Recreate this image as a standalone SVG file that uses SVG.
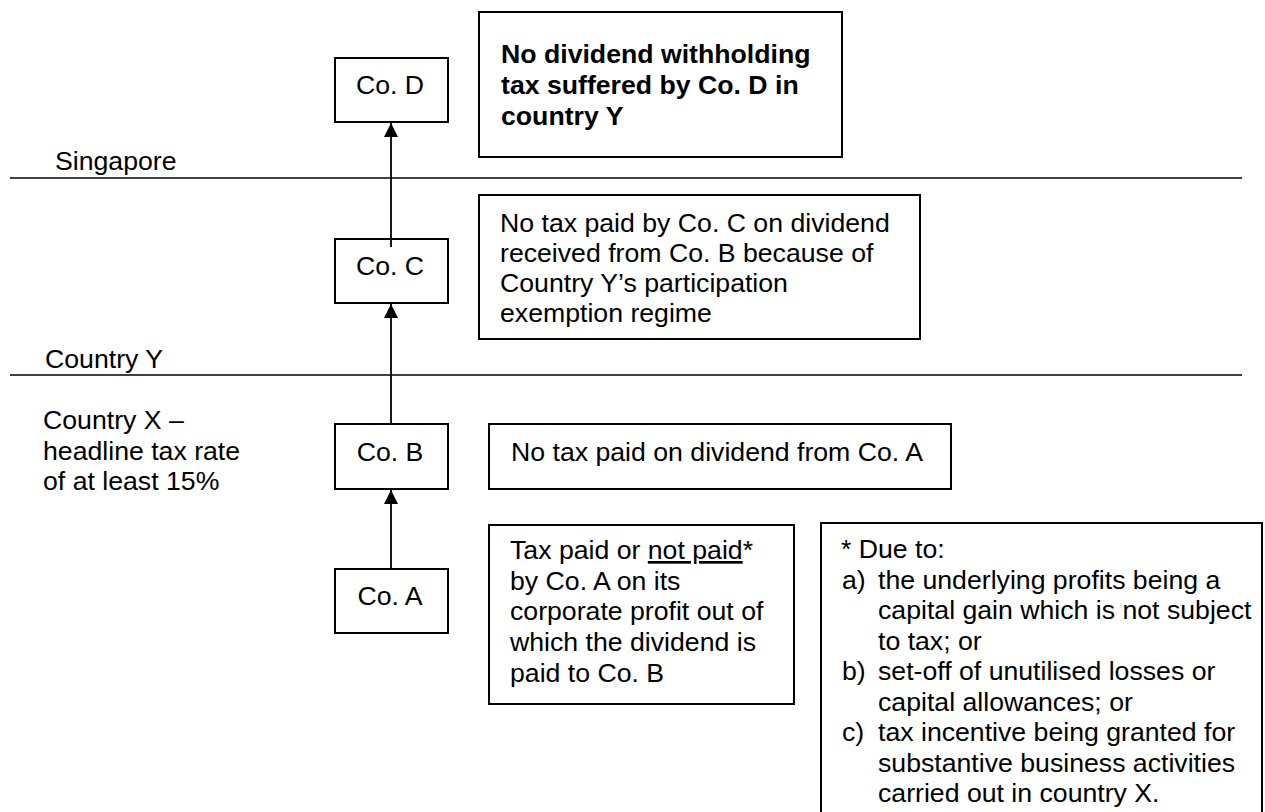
<svg xmlns="http://www.w3.org/2000/svg" width="1265" height="812" viewBox="0 0 1265 812">
<defs>
<style>
text{font-family:"Liberation Sans",Arial,sans-serif;font-size:26.67px;fill:#000}
.b{font-weight:bold}
.box{fill:#fff;stroke:#000;stroke-width:2}
.sep{stroke:#000;stroke-width:1.5;fill:none}
.conn{stroke:#000;stroke-width:1.8;fill:none}
.u{text-decoration:underline}
</style>
<marker id="ah" markerWidth="14" markerHeight="15" refX="14" refY="7" orient="auto" markerUnits="userSpaceOnUse" viewBox="0 0 14 14">
<path d="M0,0 L14,7 L0,14 Z" fill="#000"/>
</marker>
</defs>
<rect width="1265" height="812" fill="#fff"/>
<g id="separators">
<line class="sep" x1="10" y1="178" x2="1242" y2="178"/>
<line class="sep" x1="10" y1="375" x2="1242" y2="375"/>
</g>
<g id="region-labels">
<text x="55" y="170">Singapore</text>
<text x="45" y="368">Country Y</text>
<text x="43" y="429">Country X –</text>
<text x="43" y="460">headline tax rate</text>
<text x="43" y="490">of at least 15%</text>
</g>
<g id="connectors">
<line class="conn" x1="391" y1="247" x2="391" y2="123" marker-end="url(#ah)"/>
<line class="conn" x1="391" y1="424" x2="391" y2="304" marker-end="url(#ah)"/>
<line class="conn" x1="391" y1="570" x2="391" y2="490" marker-end="url(#ah)"/>
</g>
<g id="coD">
<rect class="box" x="335" y="58" width="113" height="64"/>
<text x="390" y="94" text-anchor="middle">Co. D</text>
</g>
<g id="coC">
<rect class="box" x="335" y="239" width="113" height="64"/>
<line class="conn" x1="391" y1="239" x2="391" y2="247"/>
<text x="390" y="275" text-anchor="middle">Co. C</text>
</g>
<g id="coB">
<rect class="box" x="335" y="424" width="113" height="65"/>
<text x="390" y="461" text-anchor="middle">Co. B</text>
</g>
<g id="coA">
<rect class="box" x="335" y="569" width="113" height="64"/>
<text x="390" y="605" text-anchor="middle">Co. A</text>
</g>
<g id="noteD">
<rect class="box" x="479" y="12" width="363" height="145"/>
<text class="b" x="501" y="63">No dividend withholding</text>
<text class="b" x="501" y="94">tax suffered by Co. D in</text>
<text class="b" x="501" y="125">country Y</text>
</g>
<g id="noteC">
<rect class="box" x="479" y="195" width="441" height="144"/>
<text x="500" y="232">No tax paid by Co. C on dividend</text>
<text x="500" y="262">received from Co. B because of</text>
<text x="500" y="292">Country Y’s participation</text>
<text x="500" y="322">exemption regime</text>
</g>
<g id="noteB">
<rect class="box" x="489" y="424" width="462" height="65"/>
<text x="511" y="461">No tax paid on dividend from Co. A</text>
</g>
<g id="noteA">
<rect class="box" x="489" y="525" width="305" height="179"/>
<text x="510" y="559">Tax paid or <tspan class="u">not paid</tspan>*</text>
<text x="510" y="590">by Co. A on its</text>
<text x="510" y="620">corporate profit out of</text>
<text x="510" y="651">which the dividend is</text>
<text x="510" y="682">paid to Co. B</text>
</g>
<g id="footnote">
<rect class="box" x="821" y="523" width="441" height="320"/>
<text x="841" y="558">* Due to:</text>
<text x="842" y="589">a)</text>
<text x="878" y="589">the underlying profits being a</text>
<text x="878" y="619">capital gain which is not subject</text>
<text x="878" y="650">to tax; or</text>
<text x="842" y="680">b)</text>
<text x="878" y="680">set-off of unutilised losses or</text>
<text x="878" y="711">capital allowances; or</text>
<text x="842" y="741">c)</text>
<text x="878" y="741">tax incentive being granted for</text>
<text x="878" y="772">substantive business activities</text>
<text x="878" y="802">carried out in country X.</text>
</g>
</svg>
